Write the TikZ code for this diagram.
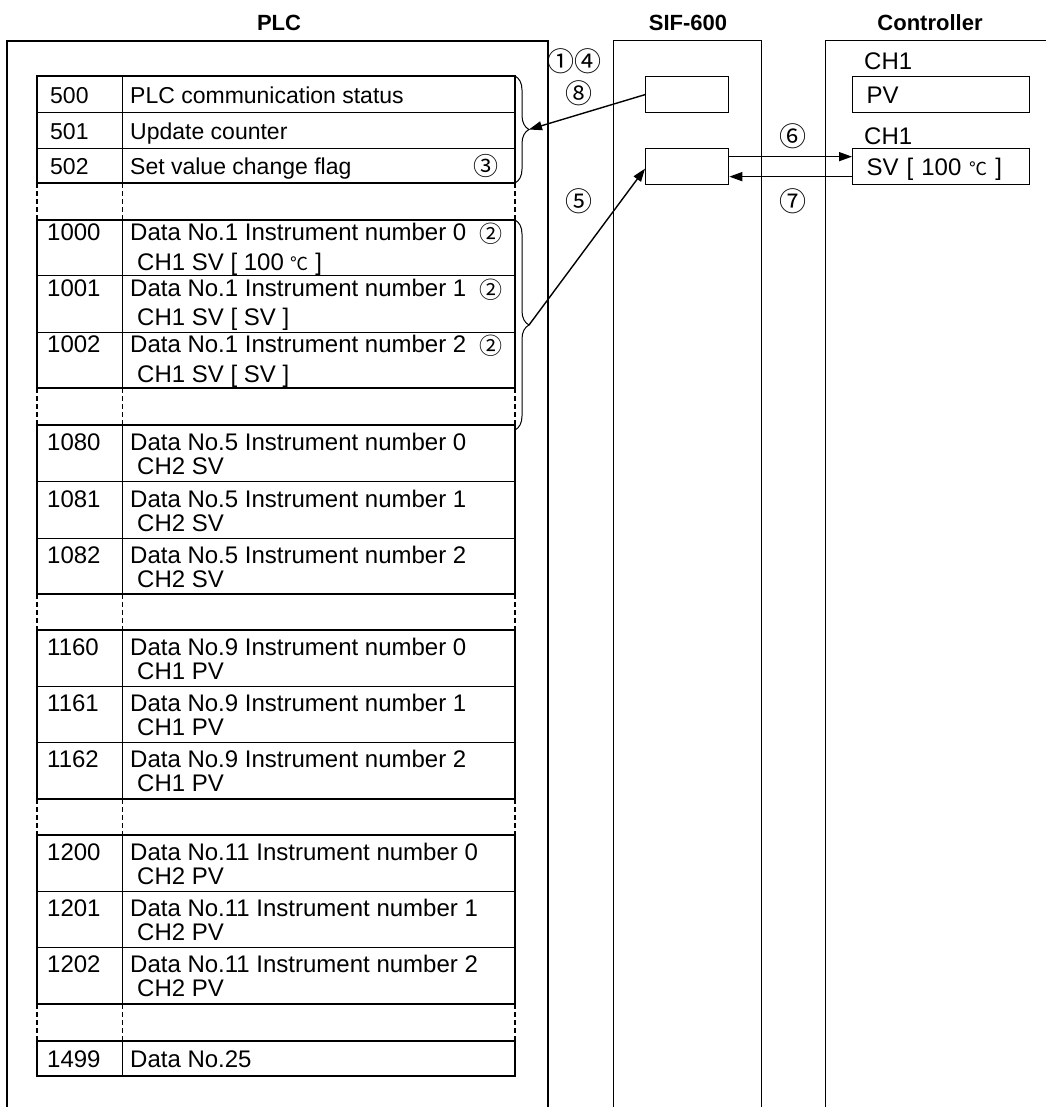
\documentclass[tikz,border=0pt]{standalone}
\usepackage{fontspec}
\setmainfont{Liberation Sans}
\newfontfamily\cjk{Noto Sans CJK JP}
\usetikzlibrary{arrows.meta,decorations.pathreplacing,calc}
\newcommand{\degc}{{\cjk\fontsize{18}{20}\selectfont ℃}}
\begin{document}
\begin{tikzpicture}[x=1pt,y=-1pt,
  txt/.style={anchor=west, inner sep=0pt, font=\fontsize{24}{28}\selectfont, text height=17.2pt, text depth=0pt},
  txs/.style={anchor=west, inner sep=0pt, font=\fontsize{23}{27}\selectfont, text height=16.5pt, text depth=0pt},
  hdr/.style={inner sep=0pt, font=\fontsize{22}{26}\selectfont\bfseries},
  circ/.style={inner sep=0pt, font=\cjk\fontsize{27}{30}\selectfont},
  circm/.style={inner sep=0pt, font=\cjk\fontsize{25}{28}\selectfont},
  circs/.style={inner sep=0pt, font=\cjk\fontsize{23}{26}\selectfont},
  tb/.style={line width=1.8pt},
  tn/.style={line width=1pt},
  dsh/.style={dash pattern=on 5pt off 3pt},
  arr/.style={line width=1.4pt, -{Triangle[length=13pt,width=9pt]}},
  sbox/.style={draw, line width=1.3pt, anchor=north west, minimum width=83pt, minimum height=36pt, inner sep=0pt},
  cbox/.style={draw, line width=1.3pt, anchor=north west, minimum width=177pt, minimum height=36pt, text width=149pt, inner xsep=14pt, inner ysep=0pt, align=left, font=\fontsize{24}{28}\selectfont, text height=17.2pt, text depth=0pt},
  brc/.style={tn, decorate, decoration={brace, amplitude=14pt}}
]
\useasboundingbox (0,0) rectangle (1046,1107);

% headers
\node[hdr] (hplc) at (279,23) {PLC};
\node[hdr] (hsif) at (688,23) {SIF-600};
\node[hdr] (hctl) at (930,23) {Controller};

% columns
\draw[line width=1.7pt] (7.3,1107) -- (7.3,40.7) -- (548,40.7) -- (548,1107);
\draw[line width=1pt] (613,1107) -- (613,40.7) -- (761,40.7) -- (761,1107);
\draw[line width=1.3pt] (825.6,1107) -- (825.6,40.7) -- (1046,40.7);

% table blocks
\def\L{36.7}\def\D{122}\def\R{515}
\draw[tb] (\L,76) rectangle (\R,183);
\draw[tn] (\L,112.7) -- (\R,112.7) (\L,149) -- (\R,149) (\D,76) -- (\D,183);
\draw[tb] (\L,220) rectangle (\R,388);
\draw[tn] (\L,275.5) -- (\R,275.5) (\L,332) -- (\R,332) (\D,220) -- (\D,388);
\draw[tb] (\L,425) rectangle (\R,594);
\draw[tn] (\L,481.7) -- (\R,481.7) (\L,538.3) -- (\R,538.3) (\D,425) -- (\D,594);
\draw[tb] (\L,630) rectangle (\R,799);
\draw[tn] (\L,686) -- (\R,686) (\L,742.3) -- (\R,742.3) (\D,630) -- (\D,799);
\draw[tb] (\L,835) rectangle (\R,1004);
\draw[tn] (\L,891) -- (\R,891) (\L,947.3) -- (\R,947.3) (\D,835) -- (\D,1004);
\draw[tb] (\L,1041) rectangle (\R,1076);
\draw[tn] (\D,1041) -- (\D,1076);
\foreach \a/\b in {183/220, 388/425, 594/630, 799/835, 1004/1041}{
  \draw[tb,dsh] (\L,\a) -- (\L,\b) (\R,\a) -- (\R,\b);
  \draw[tn,dsh] (\D,\a) -- (\D,\b);
}

% block 1 text
\node[txs] (n500) at (50,95) {500};
\node[txs] (t500) at (130,95) {PLC communication status};
\node[txs] (n501) at (50,131) {501};
\node[txs] (t501) at (130,131) {Update counter};
\node[txs] (n502) at (50,166) {502};
\node[txs] (t502) at (130,166) {Set value change flag};
\node[circm] (c3) at (486,166) {③};

% block 2 text
\node[txt] (n1000) at (47,232) {1000};
\node[txt] (a1000) at (130,232) {Data No.1 Instrument number 0};
\node[txt] (b1000) at (137,261.5) {CH1 SV [ 100 \degc{} ]};
\node[circs] (c2a) at (491,234) {②};
\node[txt] (n1001) at (47,287.5) {1001};
\node[txt] (a1001) at (130,287.5) {Data No.1 Instrument number 1};
\node[txt] (b1001) at (137,317) {CH1 SV [ SV ]};
\node[circs] (c2b) at (491,289.5) {②};
\node[txt] (n1002) at (47,344) {1002};
\node[txt] (a1002) at (130,344) {Data No.1 Instrument number 2};
\node[txt] (b1002) at (137,373.5) {CH1 SV [ SV ]};
\node[circs] (c2c) at (491,346) {②};

% block 3 text
\node[txt] (n1080) at (47,442) {1080};
\node[txt] (a1080) at (130,442) {Data No.5 Instrument number 0};
\node[txt] (b1080) at (137,466) {CH2 SV};
\node[txt] (n1081) at (47,498.7) {1081};
\node[txt] (a1081) at (130,498.7) {Data No.5 Instrument number 1};
\node[txt] (b1081) at (137,522.7) {CH2 SV};
\node[txt] (n1082) at (47,555.3) {1082};
\node[txt] (a1082) at (130,555.3) {Data No.5 Instrument number 2};
\node[txt] (b1082) at (137,579.3) {CH2 SV};

% block 4 text
\node[txt] (n1160) at (47,647) {1160};
\node[txt] (a1160) at (130,647) {Data No.9 Instrument number 0};
\node[txt] (b1160) at (137,671) {CH1 PV};
\node[txt] (n1161) at (47,703) {1161};
\node[txt] (a1161) at (130,703) {Data No.9 Instrument number 1};
\node[txt] (b1161) at (137,727) {CH1 PV};
\node[txt] (n1162) at (47,759.3) {1162};
\node[txt] (a1162) at (130,759.3) {Data No.9 Instrument number 2};
\node[txt] (b1162) at (137,783.3) {CH1 PV};

% block 5 text
\node[txt] (n1200) at (47,852) {1200};
\node[txt] (a1200) at (130,852) {Data No.11 Instrument number 0};
\node[txt] (b1200) at (137,876) {CH2 PV};
\node[txt] (n1201) at (47,908) {1201};
\node[txt] (a1201) at (130,908) {Data No.11 Instrument number 1};
\node[txt] (b1201) at (137,932) {CH2 PV};
\node[txt] (n1202) at (47,964.3) {1202};
\node[txt] (a1202) at (130,964.3) {Data No.11 Instrument number 2};
\node[txt] (b1202) at (137,988.3) {CH2 PV};

% block 6 text
\node[txt] (n1499) at (47,1059) {1499};
\node[txt] (a1499) at (130,1059) {Data No.25};

% braces
\draw[brc] (\R,76) -- (\R,183);
\coordinate (b1) at (529,129.5);
\draw[brc] (\R,220) -- (\R,430);
\coordinate (b2) at (529,325);

% SIF boxes
\node[sbox] (sifA) at (645,76) {};
\node[sbox] (sifB) at (645,148) {};

% Controller
\node[txt] (ch1a) at (864,61) {CH1};
\node[cbox] (pv) at (852,76) {PV};
\node[txt] (ch1b) at (864,136) {CH1};
\node[cbox] (sv) at (852,148) {SV [ 100 \degc{} ]};

% step labels
\node[circ] (s14) at (574,61) {①④};
\node[circ] (s8) at (579,93) {⑧};
\node[circ] (s5) at (579,201) {⑤};
\node[circ] (s6) at (792.5,136) {⑥};
\node[circ] (s7) at (792.5,201) {⑦};

% arrows
\draw[arr] (sifA.west) -- (b1);
\draw[arr] (b2) -- ([yshift=-2pt]sifB.west);
\draw[arr] ([yshift=10pt]sifB.east) -- ([yshift=10pt]sv.west);
\draw[arr] ([yshift=-10pt]sv.west) -- ([yshift=-10pt]sifB.east);
\end{tikzpicture}
\end{document}
